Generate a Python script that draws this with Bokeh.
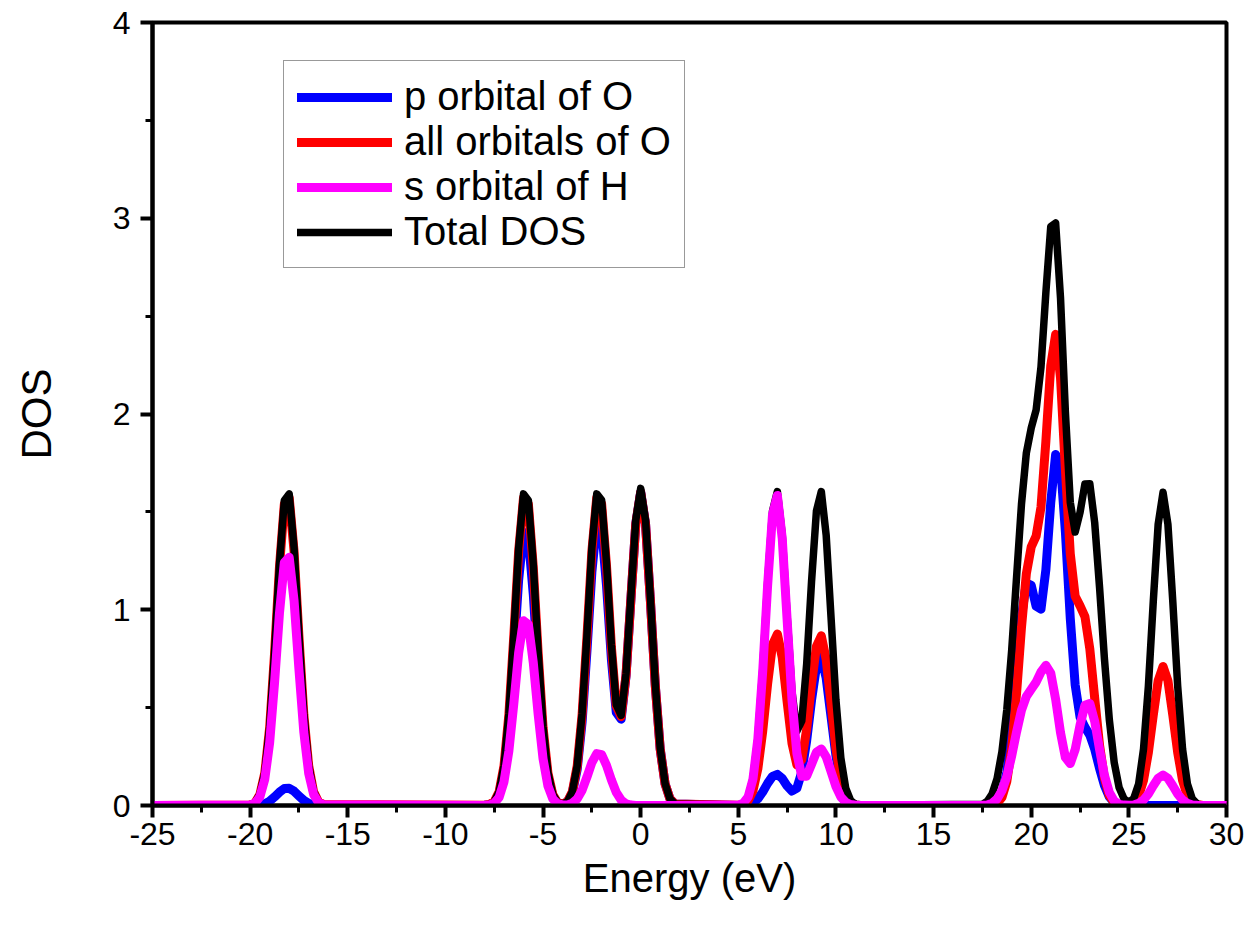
from bokeh.plotting import figure
from bokeh.models import SingleIntervalTicker, Legend, LegendItem, PrintfTickFormatter
from bokeh.embed import file_html
from bokeh.resources import INLINE

energy = [
    -25.0,
    -20.0, -19.75, -19.5, -19.25, -19.0, -18.75, -18.5, -18.25, -18.0, -17.75, -17.5, -17.25, -17.0, -16.75, -16.5, -16.25,
    -8.0, -7.75, -7.5, -7.25, -7.0, -6.75, -6.5, -6.25, -6.0, -5.75, -5.5, -5.25, -5.0, -4.75, -4.5, -4.25, -4.0, -3.75,
    -3.5, -3.25, -3.0, -2.75, -2.5, -2.25, -2.0, -1.75, -1.5, -1.25, -1.0, -0.75, -0.5, -0.25, 0.0, 0.25, 0.5, 0.75,
    1.0, 1.25, 1.5, 1.75,
    5.0, 5.25, 5.5, 5.75, 6.0, 6.25, 6.5, 6.75, 7.0, 7.25, 7.5, 7.75, 8.0, 8.25, 8.5, 8.75, 9.0, 9.25, 9.5, 9.75,
    10.0, 10.25, 10.5, 10.75, 11.0, 11.25,
    17.5, 17.75, 18.0, 18.25, 18.5, 18.75, 19.0, 19.25, 19.5, 19.75, 20.0, 20.25, 20.5, 20.75, 21.0, 21.25, 21.5, 21.75,
    22.0, 22.25, 22.5, 22.75, 23.0, 23.25, 23.5, 23.75, 24.0, 24.25, 24.5, 24.75, 25.0, 25.25, 25.5, 25.75, 26.0, 26.25,
    26.5, 26.75, 27.0, 27.25, 27.5, 27.75, 28.0, 28.25, 28.5, 28.75,
    30.0,
]

p_orbital_O = [
    0.0,
    0.000, 0.001, 0.003, 0.009, 0.022, 0.044, 0.068, 0.087, 0.088, 0.073, 0.049, 0.026, 0.011, 0.004, 0.001, 0.000,
    0.001, 0.004, 0.017, 0.062, 0.179, 0.412, 0.765, 1.152, 1.396, 1.366, 1.079, 0.689, 0.354, 0.148, 0.050, 0.013, 0.007, 0.018,
    0.065, 0.185, 0.426, 0.792, 1.192, 1.445, 1.416, 1.125, 0.747, 0.476, 0.441, 0.661, 1.055, 1.440, 1.600, 1.437, 1.042, 0.610,
    0.288, 0.110, 0.034, 0.008,
    0.000, 0.001, 0.004, 0.014, 0.034, 0.069, 0.113, 0.149, 0.159, 0.138, 0.100, 0.074, 0.089, 0.171, 0.331, 0.538, 0.710, 0.757, 0.651, 0.452,
    0.254, 0.115, 0.042, 0.012, 0.003, 0.000,
    0.000, 0.001, 0.004, 0.018, 0.062, 0.169, 0.374, 0.667, 0.965, 1.137, 1.125, 1.018, 1.003, 1.204, 1.548, 1.793, 1.742, 1.398,
    0.955, 0.616, 0.452, 0.400, 0.360, 0.288, 0.189, 0.102, 0.044, 0.015, 0.004, 0.001, 0.000, 0.000, 0.000, 0.000, 0.000, 0.000,
    0.000, 0.000, 0.000, 0.000, 0.000, 0.000, 0.000, 0.000, 0.000, 0.000,
    0.0,
]

all_orbitals_O = [
    0.0,
    0.003, 0.014, 0.056, 0.166, 0.398, 0.776, 1.216, 1.539, 1.573, 1.298, 0.862, 0.464, 0.202, 0.070, 0.019, 0.005,
    0.001, 0.005, 0.019, 0.070, 0.202, 0.464, 0.862, 1.298, 1.573, 1.539, 1.216, 0.776, 0.398, 0.166, 0.056, 0.014, 0.008, 0.019,
    0.070, 0.202, 0.464, 0.862, 1.298, 1.573, 1.541, 1.224, 0.810, 0.509, 0.454, 0.666, 1.057, 1.440, 1.600, 1.437, 1.042, 0.610,
    0.288, 0.110, 0.034, 0.008,
    0.001, 0.006, 0.024, 0.075, 0.187, 0.380, 0.622, 0.822, 0.876, 0.755, 0.530, 0.317, 0.207, 0.233, 0.390, 0.619, 0.813, 0.867, 0.746, 0.518,
    0.291, 0.131, 0.048, 0.014, 0.003, 0.000,
    0.000, 0.000, 0.002, 0.011, 0.041, 0.123, 0.294, 0.574, 0.909, 1.184, 1.321, 1.376, 1.524, 1.860, 2.247, 2.407, 2.184, 1.717,
    1.286, 1.069, 1.020, 0.965, 0.800, 0.549, 0.307, 0.139, 0.051, 0.015, 0.004, 0.001, 0.004, 0.015, 0.049, 0.128, 0.271, 0.462,
    0.638, 0.710, 0.638, 0.462, 0.271, 0.128, 0.049, 0.015, 0.004, 0.001,
    0.0,
]

s_orbital_H = [
    0.0,
    0.003, 0.012, 0.045, 0.134, 0.321, 0.626, 0.980, 1.241, 1.268, 1.046, 0.695, 0.374, 0.163, 0.057, 0.015, 0.004,
    0.000, 0.003, 0.012, 0.042, 0.121, 0.278, 0.517, 0.779, 0.944, 0.924, 0.730, 0.466, 0.239, 0.100, 0.034, 0.009, 0.003, 0.003,
    0.012, 0.034, 0.078, 0.146, 0.219, 0.265, 0.260, 0.205, 0.131, 0.067, 0.028, 0.009, 0.002, 0.000, 0.000, 0.000, 0.000, 0.000,
    0.000, 0.000, 0.000, 0.000,
    0.002, 0.011, 0.043, 0.135, 0.339, 0.687, 1.124, 1.485, 1.584, 1.363, 0.948, 0.539, 0.265, 0.149, 0.150, 0.211, 0.272, 0.289, 0.249, 0.173,
    0.097, 0.044, 0.016, 0.005, 0.001, 0.000,
    0.001, 0.003, 0.012, 0.033, 0.075, 0.148, 0.253, 0.376, 0.486, 0.557, 0.594, 0.630, 0.682, 0.716, 0.676, 0.543, 0.372, 0.245,
    0.214, 0.286, 0.411, 0.512, 0.521, 0.430, 0.286, 0.154, 0.067, 0.023, 0.006, 0.002, 0.001, 0.003, 0.011, 0.028, 0.059, 0.101,
    0.139, 0.155, 0.139, 0.101, 0.059, 0.028, 0.011, 0.003, 0.001, 0.000,
    0.0,
]

total_dos = [
    0.0,
    0.003, 0.015, 0.057, 0.168, 0.403, 0.786, 1.231, 1.558, 1.592, 1.314, 0.873, 0.470, 0.204, 0.071, 0.019, 0.005,
    0.001, 0.005, 0.019, 0.071, 0.204, 0.470, 0.873, 1.314, 1.592, 1.558, 1.231, 0.786, 0.403, 0.168, 0.057, 0.015, 0.008, 0.019,
    0.071, 0.204, 0.470, 0.873, 1.314, 1.592, 1.560, 1.239, 0.820, 0.515, 0.460, 0.674, 1.070, 1.458, 1.620, 1.455, 1.055, 0.617,
    0.292, 0.112, 0.034, 0.008,
    0.002, 0.011, 0.043, 0.137, 0.343, 0.696, 1.138, 1.504, 1.604, 1.382, 0.969, 0.581, 0.380, 0.432, 0.722, 1.144, 1.505, 1.604, 1.380, 0.958,
    0.538, 0.243, 0.089, 0.026, 0.006, 0.001,
    0.006, 0.022, 0.060, 0.137, 0.275, 0.490, 0.794, 1.167, 1.538, 1.801, 1.928, 2.020, 2.240, 2.621, 2.958, 2.976, 2.593, 2.009,
    1.549, 1.397, 1.497, 1.643, 1.644, 1.445, 1.113, 0.749, 0.438, 0.219, 0.092, 0.034, 0.017, 0.036, 0.110, 0.288, 0.610, 1.042,
    1.437, 1.600, 1.437, 1.042, 0.610, 0.288, 0.110, 0.034, 0.008, 0.002,
    0.0,
]

series_labels = ["p orbital of O", "all orbitals of O", "s orbital of H", "Total DOS"]
x_ticks_interval = 5
y_ticks_interval = 1

for s in (p_orbital_O, all_orbitals_O, s_orbital_H, total_dos):
    assert len(s) == len(energy), (len(s), len(energy))

FONT = "Liberation Sans"

p = figure(width=1248, height=932, x_range=(-25, 30), y_range=(0, 4),
           output_backend="svg", toolbar_location=None,
           min_border_left=152, min_border_right=22, min_border_top=22, min_border_bottom=127,
           background_fill_color="white", border_fill_color="white")

p.xgrid.visible = False
p.ygrid.visible = False
p.outline_line_color = "black"
p.outline_line_width = 4
p.outline_line_alpha = 1.0

r_blue = p.line(energy, p_orbital_O, line_color="#0000ff", line_width=9, line_join="round", line_cap="round")
r_red = p.line(energy, all_orbitals_O, line_color="#ff0000", line_width=9, line_join="round", line_cap="round")
r_black = p.line(energy, total_dos, line_color="#000000", line_width=7.5, line_join="round", line_cap="round")
r_mag = p.line(energy, s_orbital_H, line_color="#ff00ff", line_width=9, line_join="round", line_cap="round")

p.xaxis.ticker = SingleIntervalTicker(interval=x_ticks_interval, num_minor_ticks=2)
p.yaxis.ticker = SingleIntervalTicker(interval=y_ticks_interval, num_minor_ticks=2)
p.xaxis.formatter = PrintfTickFormatter(format="%d")
p.yaxis.formatter = PrintfTickFormatter(format="%d")

for ax in (p.xaxis[0], p.yaxis[0]):
    ax.axis_line_width = 4
    ax.axis_line_color = "black"
    ax.major_tick_line_width = 4
    ax.minor_tick_line_width = 3
    ax.major_tick_out = 12
    ax.major_tick_in = 0
    ax.minor_tick_out = 7
    ax.minor_tick_in = 0
    ax.major_label_text_font = FONT
    ax.major_label_text_font_size = "32px"
    ax.major_label_text_color = "black"
    ax.axis_label_text_font = FONT
    ax.axis_label_text_font_style = "normal"
    ax.axis_label_text_color = "black"

p.xaxis.axis_label = "Energy (eV)"
p.yaxis.axis_label = "DOS"
p.xaxis.axis_label_text_font_size = "40px"
p.yaxis.axis_label_text_font_size = "42px"
p.xaxis.major_label_standoff = 5
p.xaxis.axis_label_standoff = 8
p.yaxis.major_label_standoff = 10
p.yaxis.axis_label_standoff = 50

legend = Legend(items=[
    LegendItem(label=series_labels[0], renderers=[r_blue]),
    LegendItem(label=series_labels[1], renderers=[r_red]),
    LegendItem(label=series_labels[2], renderers=[r_mag]),
    LegendItem(label=series_labels[3], renderers=[r_black]),
], location=(131, 537))
legend.label_text_font = FONT
legend.label_text_font_size = "40px"
legend.label_text_color = "black"
legend.glyph_width = 95
legend.glyph_height = 44
legend.label_height = 44
legend.spacing = 0
legend.padding = 13
legend.label_standoff = 12
legend.border_line_color = "#333333"
legend.border_line_width = 1.5
legend.background_fill_alpha = 1.0
legend.margin = 0
p.add_layout(legend, "center")

open("out.html", "w").write(file_html(p, INLINE))
